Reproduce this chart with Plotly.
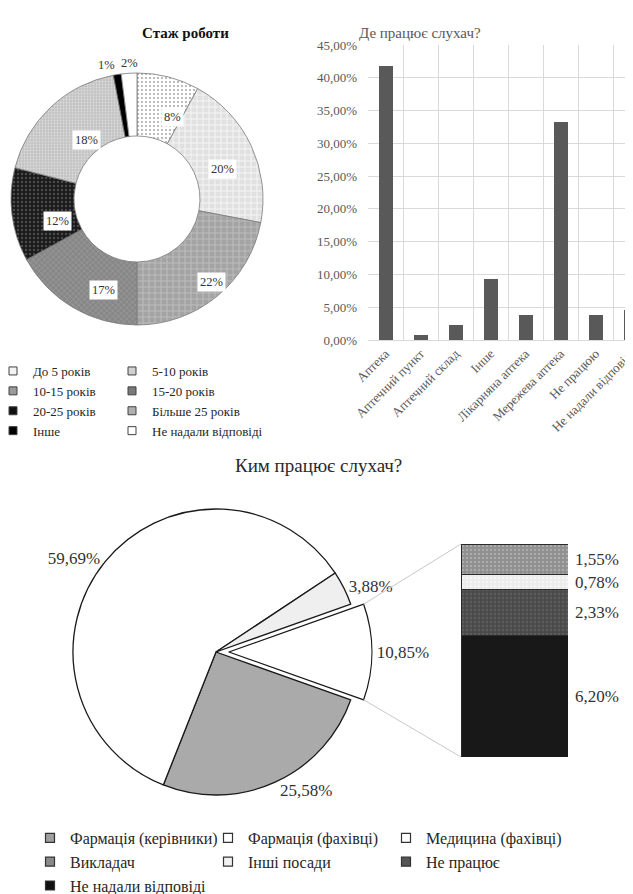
import math
import plotly.graph_objects as go

# page window size and the browser's default body margin (page is offset by it)
W, H = 633, 894
OFF = 8
FW, FH = W - OFF, H - OFF

# ---------------- data ----------------
stage_labels = ["До 5 років", "5-10 років", "10-15 років", "15-20 років",
                "20-25 років", "Більше 25 років", "Інше", "Не надали відповіді"]
stage_values = [8, 20, 22, 17, 12, 18, 1, 2]

place_labels = ["Аптека", "Аптечний пункт", "Аптечний склад", "Інше",
                "Лікарняна аптека", "Мережева аптека", "Не працюю", "Не надали відповіді"]
place_share = [0.4186, 0.0078, 0.0233, 0.0930, 0.0388, 0.3333, 0.0388, 0.0465]
share_ticks = [0.00, 0.05, 0.10, 0.15, 0.20, 0.25, 0.30, 0.35, 0.40, 0.45]

role_main_labels = ["Інші", "Фармація (керівники)", "Фармація (фахівці)", "Медицина (фахівці)"]
role_main_values = [10.85, 25.58, 59.69, 3.88]
role_sub_labels = ["Не надали відповіді", "Не працює", "Інші посади", "Викладач"]
role_sub_values = [6.20, 2.33, 0.78, 1.55]
role_legend_order = ["Фармація (керівники)", "Фармація (фахівці)", "Медицина (фахівці)",
                     "Викладач", "Інші посади", "Не працює", "Не надали відповіді"]

# ---------------- style ----------------
FONT = "Liberation Serif"


def px_x(px):
    return (px - OFF) / FW


def px_y(py):
    return 1 - (py - OFF) / FH


stage_colors = ["#ffffff", "#e0e0e0", "#a3a3a3", "#878787", "#1a1a1a", "#c4c4c4", "#000000", "#ffffff"]
stage_pat = [".", "+", "+", "x", ".", ".", "", ""]
stage_fg = ["#a0a0a0", "#f6f6f6", "#bdbdbd", "#9c9c9c", "#4a4a4a", "#dcdcdc", "#000000", "#ffffff"]
stage_pat_size = [4, 6, 6, 4, 4, 3, 4, 4]
stage_pat_sol = [0.18, 0.3, 0.3, 0.3, 0.3, 0.3, 0.3, 0.3]
stage_legend_colors = ["#f4f4f4", "#d0d0d0", "#9a9a9a", "#7a7a7a", "#111111", "#b0b0b0", "#000000", "#ffffff"]

role_colors = {"Інші": "#ffffff", "Фармація (керівники)": "#aaaaaa", "Фармація (фахівці)": "#ffffff",
               "Медицина (фахівці)": "#efefef", "Викладач": "#8e8e8e", "Інші посади": "#ececec",
               "Не працює": "#4a4a4a", "Не надали відповіді": "#181818"}
role_pat = {"Викладач": ".", "Інші посади": ".", "Не працює": ".", "Не надали відповіді": ""}
role_fg = {"Викладач": "#c6c6c6", "Інші посади": "#ffffff", "Не працює": "#6e6e6e",
           "Не надали відповіді": "#181818"}
role_legend_colors = {"Фармація (керівники)": "#9f9f9f", "Фармація (фахівці)": "#ffffff",
                      "Медицина (фахівці)": "#ffffff", "Викладач": "#8a8a8a", "Інші посади": "#f2f2f2",
                      "Не працює": "#555555", "Не надали відповіді": "#111111"}

fig = go.Figure()
annotations = []
shapes = []

# ---------------- donut: Стаж роботи ----------------
D_CX, D_CY, D_R, D_HOLE = 137, 199, 126, 0.5
fig.add_trace(go.Pie(
    labels=stage_labels, values=stage_values, sort=False, direction="clockwise", rotation=0,
    hole=D_HOLE, textinfo="none", showlegend=False, hoverinfo="label+percent",
    domain=dict(x=[px_x(D_CX - D_R), px_x(D_CX + D_R)], y=[px_y(D_CY + D_R), px_y(D_CY - D_R)]),
    marker=dict(colors=stage_colors, line=dict(color="#7a7a7a", width=0.8),
                pattern=dict(shape=stage_pat, fgcolor=stage_fg, bgcolor=stage_colors,
                             size=stage_pat_size, solidity=stage_pat_sol)),
))

outside_anchor = {"Інше": "right", "Не надали відповіді": "center"}
tot = sum(stage_values)
cum = 0
for lab, v in zip(stage_labels, stage_values):
    mid = (cum + v / 2) / tot * 2 * math.pi
    cum += v
    if v >= 5:
        rr = D_R * (1 + D_HOLE) / 2
        annotations.append(dict(
            x=px_x(D_CX + rr * math.sin(mid)), y=px_y(D_CY - rr * math.cos(mid)),
            xref="paper", yref="paper", text=f"{v}%", showarrow=False,
            bgcolor="white", borderpad=2, font=dict(family=FONT, size=12.5, color="#333333")))
    else:
        rr = D_R + 1
        annotations.append(dict(
            x=px_x(D_CX + rr * math.sin(mid)), y=px_y(D_CY - rr * math.cos(mid)),
            xref="paper", yref="paper", text=f"{v}%", showarrow=False,
            xanchor=outside_anchor.get(lab, "center"), yanchor="bottom",
            font=dict(family=FONT, size=12.5, color="#333333")))

annotations.append(dict(x=px_x(140), y=px_y(23), xref="paper", yref="paper", showarrow=False,
                        text="<b>Стаж роботи</b>", font=dict(family=FONT, size=15, color="#111111")))

# ---------------- bar chart: Де працює слухач? ----------------
B_LEFT, B_TOP, B_BOTTOM, B_CAT = 368, 45, 340, 35
fig.add_trace(go.Bar(
    x=place_labels, y=place_share, width=0.4, xaxis="x", yaxis="y",
    marker=dict(color="#595959", line=dict(width=0)), showlegend=False,
))
annotations.append(dict(x=px_x(483), y=px_y(23), xref="paper", yref="paper", showarrow=False,
                        text="Де працює слухач?", font=dict(family=FONT, size=15, color="#595959")))

# ---------------- pie of pie: Ким працює слухач? ----------------
P_CX, P_CY, P_R, PULL = 216, 652, 143, 0.09
half = P_R * (1 + PULL)
main_tot = sum(role_main_values)
rotation = 90 - role_main_values[0] / main_tot * 360 / 2
fig.add_trace(go.Pie(
    labels=role_main_labels, values=role_main_values, sort=False, direction="clockwise",
    rotation=rotation, pull=[PULL, 0, 0, 0], textposition="outside",
    texttemplate="%{value:.2f}%", textfont=dict(family=FONT, size=17, color="#333333"),
    showlegend=False, hoverinfo="label+value",
    domain=dict(x=[px_x(P_CX - half), px_x(P_CX + half)], y=[px_y(P_CY + half), px_y(P_CY - half)]),
    marker=dict(colors=[role_colors[l] for l in role_main_labels], line=dict(color="#1a1a1a", width=1.3)),
))

SB_X0, SB_X1, SB_Y0, SB_Y1 = 461, 568, 544, 757
sub_tot = sum(role_sub_values)
cum = 0
for lab, v in zip(role_sub_labels, role_sub_values):
    fig.add_trace(go.Bar(
        x=["other"], y=[v], width=1.0, xaxis="x2", yaxis="y2", showlegend=False, name=lab,
        marker=dict(color=role_colors[lab], line=dict(color="#2a2a2a", width=1),
                    pattern=dict(shape=role_pat[lab], fgcolor=role_fg[lab], bgcolor=role_colors[lab],
                                 size=4, solidity=0.3)),
    ))
    annotations.append(dict(x=0.5, y=cum + v / 2, xref="x2", yref="y2", xanchor="left", xshift=5,
                            showarrow=False, text=f"{v:.2f}%".replace(".", ","),
                            font=dict(family=FONT, size=17, color="#333333")))
    cum += v

# connector lines from pulled slice to the stacked bar
mid0 = math.radians(90)
vx = P_CX + PULL * P_R * math.sin(mid0)
vy = P_CY - PULL * P_R * math.cos(mid0)
th0 = math.radians(rotation)
th1 = math.radians(rotation + role_main_values[0] / main_tot * 360)
for th, ty in ((th0, SB_Y0), (th1, SB_Y1)):
    shapes.append(dict(type="line", xref="paper", yref="paper",
                       x0=px_x(vx + P_R * math.sin(th)), y0=px_y(vy - P_R * math.cos(th)),
                       x1=px_x(SB_X0), y1=px_y(ty), line=dict(color="#c8c8c8", width=1)))

annotations.append(dict(x=px_x(318), y=px_y(465), xref="paper", yref="paper", showarrow=False,
                        text="Ким працює слухач?", font=dict(family=FONT, size=19, color="#2a2a2a")))

# ---------------- legend entries ----------------
for i, lab in enumerate(stage_labels):
    fig.add_trace(go.Scatter(
        x=[None], y=[None], mode="markers", name=lab, xaxis="x3", yaxis="y3",
        legend="legend" if i % 2 == 0 else "legend2", hoverinfo="skip",
        marker=dict(symbol="square", size=8, color=stage_legend_colors[i],
                    line=dict(color="#404040", width=1))))

role_leg_ids = ["legend3", "legend4", "legend5"]
for i, lab in enumerate(role_legend_order):
    fig.add_trace(go.Scatter(
        x=[None], y=[None], mode="markers", name=lab, xaxis="x3", yaxis="y3",
        legend=role_leg_ids[i % 3], hoverinfo="skip",
        marker=dict(symbol="square", size=9, color=role_legend_colors[lab],
                    line=dict(color="#333333", width=1.2))))


def leg(xpx, ytop, size):
    return dict(x=px_x(xpx), y=px_y(ytop), xanchor="left", yanchor="top", orientation="v",
                traceorder="normal",
                font=dict(family=FONT, size=size, color="#262626"), bgcolor="rgba(0,0,0,0)",
                borderwidth=0, tracegroupgap=0, itemclick=False, itemdoubleclick=False)


fig.update_layout(
    width=FW, height=FH,
    margin=dict(l=0, r=0, t=0, b=0, autoexpand=False),
    paper_bgcolor="white", plot_bgcolor="white",
    font=dict(family=FONT, color="#333333"),
    separators=", ",
    barmode="stack",
    xaxis=dict(domain=[px_x(B_LEFT), 1], range=[-0.5, (W - B_LEFT) / B_CAT - 0.5],
               type="category", tickson="boundaries", showgrid=True, gridcolor="#d9d9d9", gridwidth=1,
               showline=True, linecolor="#d9d9d9", ticks="", tickangle=-45,
               tickfont=dict(family=FONT, size=13, color="#595959"), fixedrange=True),
    yaxis=dict(domain=[px_y(B_BOTTOM), px_y(B_TOP)], range=[0, 0.45], tickvals=share_ticks,
               tickformat=".2%", showgrid=True, gridcolor="#d9d9d9", gridwidth=1, zeroline=False,
               showline=False, ticks="", ticklabelstandoff=10,
               tickfont=dict(family=FONT, size=13, color="#595959"), fixedrange=True),
    xaxis2=dict(domain=[px_x(SB_X0), px_x(SB_X1)], range=[-0.5, 0.5], visible=False, fixedrange=True),
    yaxis2=dict(domain=[px_y(SB_Y1), px_y(SB_Y0)], range=[0, sub_tot], visible=False, fixedrange=True),
    xaxis3=dict(domain=[0, 0.01], visible=False),
    yaxis3=dict(domain=[0, 0.01], visible=False),
    legend=leg(-7, 356, 13),
    legend2=leg(112, 356, 13),
    legend3=leg(30, 821, 16),
    legend4=leg(208, 821, 16),
    legend5=leg(386, 821, 16),
    annotations=annotations,
    shapes=shapes,
)

fig.write_html("out.html")
